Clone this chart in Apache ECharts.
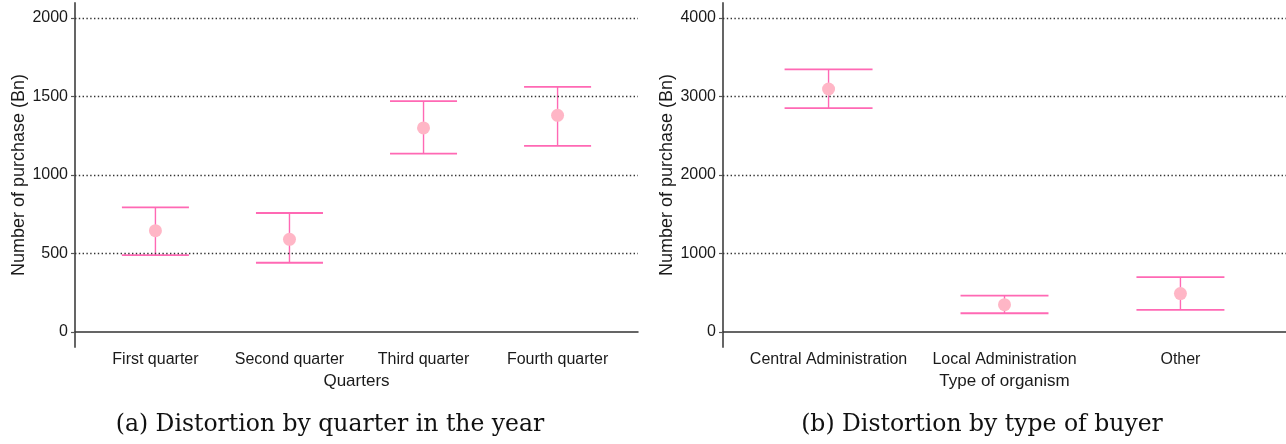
<!DOCTYPE html>
<html>
<head>
<meta charset="utf-8">
<script src="https://cdn.jsdelivr.net/npm/echarts@6/dist/echarts.min.js"></script>
<style>
  html, body { margin: 0; padding: 0; background: #fff; }
  #chart { width: 1286px; height: 444px; }
</style>
</head>
<body>
<div id="chart"></div>
<script>
// Panel (a): purchases by quarter (point estimate with lower/upper bounds)
const quarters = ['First quarter', 'Second quarter', 'Third quarter', 'Fourth quarter'];
const quarterMean = [645, 590, 1300, 1380];
const quarterLow = [490, 441, 1136, 1185];
const quarterHigh = [794, 758, 1471, 1562];
const quarterTicks = [0, 500, 1000, 1500, 2000];

// Panel (b): purchases by type of buyer
const buyers = ['Central Administration', 'Local Administration', 'Other'];
const buyerMean = [3096, 348, 489];
const buyerLow = [2853, 238, 281];
const buyerHigh = [3346, 463, 698];
const buyerTicks = [0, 1000, 2000, 3000, 4000];

const lineColor = '#ff69b4';
const pointColor = '#ffb6c6';
const sans = 'Liberation Sans, Arial, Helvetica, sans-serif';

function errorBarItem(params, api) {
  const x = api.value(0);
  const lo = api.coord([x, api.value(1)]);
  const hi = api.coord([x, api.value(2)]);
  const left = api.coord([x - 0.25, api.value(1)])[0];
  const right = api.coord([x + 0.25, api.value(1)])[0];
  const style = { stroke: lineColor, lineWidth: 1.4 };
  return {
    type: 'group',
    children: [
      { type: 'line', shape: { x1: lo[0], y1: lo[1], x2: hi[0], y2: hi[1] }, style },
      { type: 'line', shape: { x1: left, y1: lo[1], x2: right, y2: lo[1] }, style: { stroke: lineColor, lineWidth: 1.8 } },
      { type: 'line', shape: { x1: left, y1: hi[1], x2: right, y2: hi[1] }, style: { stroke: lineColor, lineWidth: 1.8 } }
    ]
  };
}

function xAxisFor(idx, cats, title) {
  return {
    type: 'value', gridIndex: idx,
    min: 0.4, max: cats.length + 0.6,
    name: title, nameLocation: 'middle', nameGap: 25,
    nameTextStyle: { fontFamily: sans, fontSize: 17, color: '#1a1a1a' },
    axisLine: { onZero: true, lineStyle: { color: '#333', width: 1.5 } },
    axisTick: { show: false },
    splitLine: { show: false },
    axisLabel: {
      customValues: cats.map((c, i) => i + 1),
      formatter: v => cats[Math.round(v) - 1] || '',
      fontFamily: sans, fontSize: 16, color: '#1a1a1a', margin: 5
    }
  };
}

function yAxisFor(idx, ticks, min, max) {
  return {
    type: 'value', gridIndex: idx, min, max,
    name: 'Number of purchase (Bn)', nameLocation: 'middle', nameGap: 46,
    nameTextStyle: { fontFamily: sans, fontSize: 18, color: '#1a1a1a' },
    axisLine: { show: true, lineStyle: { color: '#555', width: 1.8 } },
    axisTick: { show: true, customValues: ticks, length: 4, lineStyle: { color: '#555', width: 1.2 } },
    splitLine: { show: false },
    axisLabel: {
      customValues: ticks, formatter: v => String(v),
      fontFamily: sans, fontSize: 16, color: '#1a1a1a', margin: 7
    }
  };
}

function gridLines(ticks) {
  return {
    silent: true, symbol: 'none', label: { show: false },
    lineStyle: { color: '#333', type: [1.4, 2.4], width: 1.3 },
    emphasis: { disabled: true },
    data: ticks.filter(t => t !== 0).map(t => ({ yAxis: t }))
  };
}

const chart = echarts.init(document.getElementById('chart'), null, { renderer: 'canvas' });
chart.setOption({
  animation: false,
  backgroundColor: '#fff',
  title: [
    { text: '(a) Distortion by quarter in the year', left: 325, top: 408, textAlign: 'center',
      textStyle: { fontFamily: 'DejaVu Serif, serif', fontWeight: 'normal', fontSize: 23.5, color: '#111' } },
    { text: '(b) Distortion by type of buyer', left: 977, top: 408, textAlign: 'center',
      textStyle: { fontFamily: 'DejaVu Serif, serif', fontWeight: 'normal', fontSize: 23.5, color: '#111' } }
  ],
  grid: [
    { left: 75, width: 563, top: 3, height: 344 },
    { left: 723, width: 563, top: 3, height: 344 }
  ],
  xAxis: [
    xAxisFor(0, quarters, 'Quarters'),
    xAxisFor(1, buyers, 'Type of organism')
  ],
  yAxis: [
    yAxisFor(0, quarterTicks, -96, 2096),
    yAxisFor(1, buyerTicks, -192, 4192)
  ],
  series: [
    {
      type: 'custom', xAxisIndex: 0, yAxisIndex: 0, z: 2,
      renderItem: errorBarItem,
      encode: { x: 0, y: [1, 2] },
      data: quarters.map((c, i) => [i + 1, quarterLow[i], quarterHigh[i]]),
      markLine: gridLines(quarterTicks)
    },
    {
      type: 'scatter', xAxisIndex: 0, yAxisIndex: 0, z: 3,
      symbolSize: 13, itemStyle: { color: pointColor, opacity: 1 },
      data: quarters.map((c, i) => [i + 1, quarterMean[i]])
    },
    {
      type: 'custom', xAxisIndex: 1, yAxisIndex: 1, z: 2,
      renderItem: errorBarItem,
      encode: { x: 0, y: [1, 2] },
      data: buyers.map((c, i) => [i + 1, buyerLow[i], buyerHigh[i]]),
      markLine: gridLines(buyerTicks)
    },
    {
      type: 'scatter', xAxisIndex: 1, yAxisIndex: 1, z: 3,
      symbolSize: 13, itemStyle: { color: pointColor, opacity: 1 },
      data: buyers.map((c, i) => [i + 1, buyerMean[i]])
    }
  ]
});
</script>
</body>
</html>
